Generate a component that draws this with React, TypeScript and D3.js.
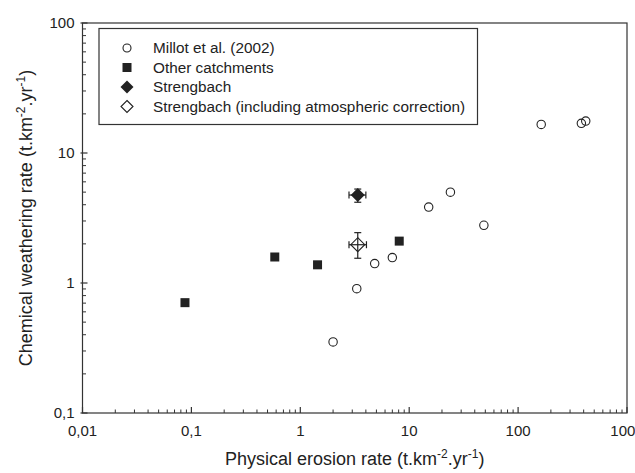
import React, { useEffect } from "react";
import * as d3 from "d3";

const millotX = [163, 381, 418, 23.9, 15.1, 48.5, 4.82, 7.0, 3.3, 2.0];
const millotY = [16.6, 16.9, 17.6, 5.0, 3.84, 2.78, 1.41, 1.57, 0.904, 0.352];
const otherX = [0.0873, 0.583, 1.44, 8.1];
const otherY = [0.706, 1.585, 1.38, 2.1];
const strengX = [3.37];
const strengY = [4.75];
const strengXErr = [[2.8, 4.0]];
const strengYErr = [[4.18, 5.28]];
const strengAtmX = [3.37];
const strengAtmY = [1.97];
const strengAtmXErr = [[2.8, 4.05]];
const strengAtmYErr = [[1.55, 2.44]];
const xTicks = [0.01, 0.1, 1, 10, 100, 1000];
const xTickLabels = ["0,01", "0,1", "1", "10", "100", "1000"];
const yTicks = [0.1, 1, 10, 100];
const yTickLabels = ["0,1", "1", "10", "100"];
const legendLabels = [
  "Millot et al. (2002)",
  "Other catchments",
  "Strengbach",
  "Strengbach (including atmospheric correction)",
];

const W = 635, H = 473;
const L = 82.5, R = 627, T = 23, B = 413;
const FONT = "Liberation Sans, Arial, sans-serif";
const INK = "#222";

export default function App() {
  useEffect(() => {
    document.body.style.margin = "0";
  }, []);
  const x = d3.scaleLog().domain([0.01, 1000]).range([L, R]);
  const y = d3.scaleLog().domain([0.1, 100]).range([B, T]);

  const minorX: number[] = [];
  for (let d = 0.01; d < 1000; d *= 10) for (let k = 2; k <= 9; k++) minorX.push(+(d * k).toPrecision(3));
  const minorY: number[] = [];
  for (let d = 0.1; d < 100; d *= 10) for (let k = 2; k <= 9; k++) minorY.push(+(d * k).toPrecision(3));

  const diamond = (cx: number, cy: number, r: number) =>
    `M${cx},${cy - r}L${cx + r},${cy}L${cx},${cy + r}L${cx - r},${cy}Z`;

  const errBars = (cx: number, cy: number, xe: number[], ye: number[], key: string) => {
    const x0 = x(xe[0]), x1 = x(xe[1]), y0 = y(ye[0]), y1 = y(ye[1]);
    const c = 3.5;
    return (
      <g key={key} stroke={INK} strokeWidth={1.2}>
        <line x1={x0} x2={x1} y1={cy} y2={cy} />
        <line x1={x0} x2={x0} y1={cy - c} y2={cy + c} />
        <line x1={x1} x2={x1} y1={cy - c} y2={cy + c} />
        <line x1={cx} x2={cx} y1={y0} y2={y1} />
        <line x1={cx - c} x2={cx + c} y1={y0} y2={y0} />
        <line x1={cx - c} x2={cx + c} y1={y1} y2={y1} />
      </g>
    );
  };

  const legX = 127, legTextX = 153, legY0 = 48, legDy = 19.5;

  return (
    <svg width={W} height={H} style={{ position: "absolute", left: 0, top: 0, background: "#fff" }} fontFamily={FONT}>
      <rect x={0} y={0} width={W} height={H} fill="#fff" />
      {/* frame */}
      <rect x={L} y={T} width={R - L} height={B - T} fill="none" stroke="#333" strokeWidth={1.2} />
      {/* x ticks */}
      {xTicks.map((t) => (
        <line key={"xt" + t} x1={x(t)} x2={x(t)} y1={B} y2={B - 6} stroke="#333" strokeWidth={1.2} />
      ))}
      {minorX.map((t) => (
        <line key={"xm" + t} x1={x(t)} x2={x(t)} y1={B} y2={B - 3.5} stroke="#333" strokeWidth={1} />
      ))}
      {yTicks.map((t) => (
        <line key={"yt" + t} x1={L - 2} x2={L + 5} y1={y(t)} y2={y(t)} stroke="#333" strokeWidth={1.2} />
      ))}
      {minorY.map((t) => (
        <line key={"ym" + t} x1={L} x2={L + 3.5} y1={y(t)} y2={y(t)} stroke="#333" strokeWidth={1} />
      ))}
      {xTicks.map((t, i) => (
        <text key={"xl" + t} x={x(t)} y={B + 23} textAnchor="middle" fontSize={15} fill={INK}>
          {xTickLabels[i]}
        </text>
      ))}
      {yTicks.map((t, i) => (
        <text key={"yl" + t} x={L - 8} y={y(t) + 4.5} textAnchor="end" fontSize={15} fill={INK}>
          {yTickLabels[i]}
        </text>
      ))}
      {/* axis titles */}
      <text x={(L + R) / 2} y={H - 8} textAnchor="middle" fontSize={18} fill={INK}>
        Physical erosion rate (t.km<tspan dy={-7} fontSize={12}>-2</tspan>
        <tspan dy={7}>.yr</tspan>
        <tspan dy={-7} fontSize={12}>-1</tspan>
        <tspan dy={7}>)</tspan>
      </text>
      <text transform={`translate(32,${(T + B) / 2}) rotate(-90)`} textAnchor="middle" fontSize={18} fill={INK}>
        Chemical weathering rate (t.km<tspan dy={-7} fontSize={12}>-2</tspan>
        <tspan dy={7}>.yr</tspan>
        <tspan dy={-7} fontSize={12}>-1</tspan>
        <tspan dy={7}>)</tspan>
      </text>
      {/* legend */}
      <rect x={99} y={28.5} width={378.5} height={96} fill="#fff" stroke="#333" strokeWidth={1.2} />
      <circle cx={legX} cy={legY0} r={4} fill="#fff" stroke={INK} strokeWidth={1.1} />
      <rect x={legX - 4.5} y={legY0 + legDy - 4.5} width={9} height={9} fill={INK} />
      <path d={diamond(legX, legY0 + 2 * legDy, 6.5)} fill={INK} />
      <path d={diamond(legX, legY0 + 3 * legDy, 6)} fill="#fff" stroke={INK} strokeWidth={1.1} />
      {legendLabels.map((s, i) => (
        <text key={s} x={legTextX} y={legY0 + i * legDy + 5} fontSize={15.3} fill={INK}>
          {s}
        </text>
      ))}
      {/* data */}
      {strengAtmX.map((v, i) => errBars(x(v), y(strengAtmY[i]), strengAtmXErr[i], strengAtmYErr[i], "ea" + i))}
      {strengAtmX.map((v, i) => (
        <path key={"da" + i} d={diamond(x(v), y(strengAtmY[i]), 7)} fill="none" stroke={INK} strokeWidth={1.1} />
      ))}
      {strengX.map((v, i) => errBars(x(v), y(strengY[i]), strengXErr[i], strengYErr[i], "es" + i))}
      {strengX.map((v, i) => (
        <path key={"ds" + i} d={diamond(x(v), y(strengY[i]), 7)} fill={INK} />
      ))}
      {otherX.map((v, i) => (
        <rect key={"o" + i} x={x(v) - 4.5} y={y(otherY[i]) - 4.5} width={9} height={9} fill={INK} />
      ))}
      {millotX.map((v, i) => (
        <circle key={"m" + i} cx={x(v)} cy={y(millotY[i])} r={4.2} fill="none" stroke={INK} strokeWidth={1.1} />
      ))}
    </svg>
  );
}
